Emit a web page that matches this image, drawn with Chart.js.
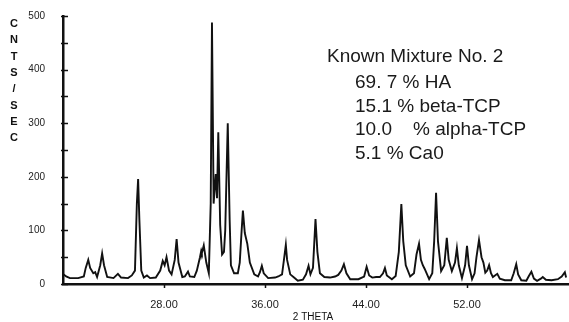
<!DOCTYPE html>
<html>
<head>
<meta charset="utf-8">
<script src="https://cdn.jsdelivr.net/npm/chart.js@4"></script>
<style>
  html,body{margin:0;padding:0;background:#fff}
</style>
</head>
<body>
<canvas id="myChart" width="569" height="322"></canvas>
<script>
// 2 theta positions (deg) and intensities (counts/sec)
const twoTheta=[20.05,20.25,20.55,21.2,21.65,21.8,22.0,22.15,22.4,22.55,
  22.7,22.95,23.1,23.25,23.5,24.0,24.35,24.6,25.15,25.45,
  25.7,25.85,25.95,26.05,26.2,26.4,26.65,26.9,27.35,27.7,
  27.9,28.05,28.2,28.4,28.6,28.85,29.0,29.15,29.45,29.65,
  29.9,30.05,30.4,30.6,30.85,30.95,31.0,31.15,31.35,31.55,
  31.7,31.8,31.93,32.1,32.2,32.3,32.45,32.6,32.75,32.85,
  33.05,33.2,33.3,33.55,33.85,34.0,34.15,34.25,34.4,34.6,
  34.8,35.15,35.45,35.6,35.75,35.9,36.25,36.8,37.05,37.35,
  37.5,37.65,37.75,38.0,38.3,38.6,39.0,39.25,39.45,39.6,
  39.8,40.0,40.15,40.35,40.7,41.15,41.55,41.8,42.05,42.25,
  42.45,42.75,43.4,43.85,44.05,44.25,44.5,44.8,45.1,45.35,
  45.5,45.65,46.05,46.35,46.6,46.8,46.95,47.15,47.5,47.8,
  48.0,48.2,48.35,48.5,48.65,49.0,49.25,49.4,49.55,49.7,
  49.95,50.2,50.4,50.55,50.8,51.05,51.2,51.35,51.6,51.85,
  52.0,52.15,52.4,52.6,52.75,52.95,53.15,53.3,53.45,53.6,
  53.75,53.9,54.05,54.4,54.6,55.0,55.5,55.7,55.9,56.05,
  56.3,56.7,56.9,57.1,57.3,57.55,57.85,58.0,58.25,58.7,
  59.2,59.5,59.75,59.85];
const counts=[18,14,11,11,14,30,45,30,20,22,
  13,35,57,35,13,11,19,12,11,16,
  25,150,196,120,25,12,16,11,12,25,
  43,35,50,25,18,45,84,40,13,14,
  23,14,13,25,50,62,58,72,40,20,
  150,488,150,205,160,283,110,55,60,100,
  300,120,35,20,20,40,100,137,95,75,
  40,18,14,22,34,20,11,12,14,18,
  45,73,45,18,12,6,8,18,34,18,
  30,121,60,20,13,12,14,17,25,37,
  20,9,9,14,32,16,12,13,13,20,
  30,16,9,15,60,149,80,35,14,20,
  55,75,45,35,28,9,20,80,170,80,
  24,35,86,45,24,40,67,35,11,35,
  71,35,9,20,50,82,50,40,21,25,
  35,20,13,19,10,7,7,20,37,18,
  7,6,15,23,10,6,10,13,8,7,
  9,14,22,12];
const xTickValues=[28,36,44,52];
const yAxisLetters=['C','N','T','S','/','S','E','C'];
const noteTitle='Known Mixture No. 2';
const noteLines=['69. 7 % HA','15.1 % beta-TCP','10.0    % alpha-TCP','5.1 % Ca0'];
const xAxisTitle='2 THETA';

const ink='#111';

// white background + hand-style tick marks, axis title, and the sample note
const extras={
  id:'extras',
  beforeDraw(chart){
    const ctx=chart.ctx;
    ctx.save();
    ctx.fillStyle='#fff';
    ctx.fillRect(0,0,chart.width,chart.height);
    ctx.restore();
  },
  afterDraw(chart){
    const ctx=chart.ctx, xs=chart.scales.x, ys=chart.scales.y;
    ctx.save();
    ctx.strokeStyle=ink;
    ctx.lineWidth=1.5;
    // y ticks cross the axis, pointing into the plot
    ys.ticks.forEach(t=>{
      const py=Math.round(ys.getPixelForValue(t.value))+0.5;
      ctx.beginPath();
      ctx.moveTo(xs.left-2,py);
      ctx.lineTo(xs.left+5,py);
      ctx.stroke();
    });
    // small x ticks under the axis
    xs.ticks.forEach(t=>{
      const px=Math.round(xs.getPixelForValue(t.value))+0.5;
      ctx.beginPath();
      ctx.moveTo(px,ys.bottom);
      ctx.lineTo(px,ys.bottom+4);
      ctx.stroke();
    });

    ctx.fillStyle=ink;
    // stacked y label
    ctx.font='bold 11px "Liberation Sans", Arial, sans-serif';
    ctx.textAlign='center';
    ctx.textBaseline='middle';
    yAxisLetters.forEach((ch,i)=>ctx.fillText(ch,14,24+i*16.3));

    // x title
    ctx.font='10px "Liberation Sans", Arial, sans-serif';
    ctx.fillText(xAxisTitle,313,317);

    // annotation
    ctx.textAlign='left';
    ctx.textBaseline='alphabetic';
    ctx.fillStyle='#1a1a1a';
    ctx.font='19px "Liberation Sans", Arial, sans-serif';
    ctx.fillText(noteTitle,327,62);
    noteLines.forEach((s,i)=>ctx.fillText(s,355,88+i*23.7));
    ctx.restore();
  }
};

const ctx=document.getElementById('myChart').getContext('2d');
const myChart=new Chart(ctx,{
  type:'line',
  data:{
    datasets:[{
      data:twoTheta.map((t,i)=>({x:t,y:counts[i]})),
      borderColor:ink,
      borderWidth:1.9,
      pointRadius:0,
      tension:0,
      fill:false
    }]
  },
  options:{
    responsive:false,
    animation:false,
    devicePixelRatio:1,
    layout:{padding:{top:15,right:1,left:0,bottom:0}},
    plugins:{legend:{display:false},tooltip:{enabled:false}},
    scales:{
      x:{
        type:'linear',
        min:20,max:60,
        afterBuildTicks:s=>{s.ticks=xTickValues.map(v=>({value:v}));},
        afterFit:s=>{s.height=38;},
        grid:{display:false},
        border:{display:true,color:ink,width:2.5},
        ticks:{
          padding:6,
          color:'#222',
          font:{family:'"Liberation Sans", Arial, sans-serif',size:11},
          maxRotation:0,
          callback:v=>Number(v).toFixed(2)
        }
      },
      y:{
        min:0,max:500,
        afterFit:s=>{s.width=63;},
        grid:{display:false},
        border:{display:true,color:ink,width:2.5},
        ticks:{
          stepSize:50,
          padding:10,
          color:'#222',
          font:{family:'"Liberation Sans", Arial, sans-serif',size:10},
          callback:v=>v%100===0?v:''
        }
      }
    }
  },
  plugins:[extras]
});
</script>
</body>
</html>
